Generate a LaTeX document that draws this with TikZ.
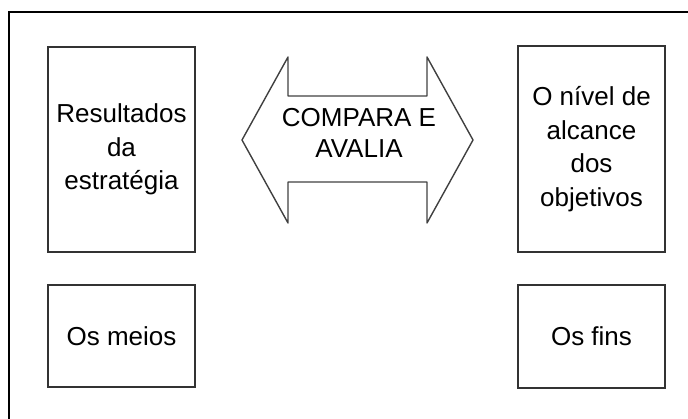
\documentclass[tikz,border=0pt]{standalone}
\usepackage{fontspec}
\setmainfont{Liberation Sans}
\begin{document}
\begin{tikzpicture}[x=1pt,y=-1pt,
    caixa/.style={draw=black!80,line width=1.4pt,minimum width=147pt,inner sep=0pt,
      align=center,font=\fontsize{26}{33.5}\selectfont},
    seta/.style={draw=black!75,line width=1.4pt,line join=round}]
  \useasboundingbox (0,0) rectangle (688,419);
  \clip (0,0) rectangle (688,419);
  % moldura
  \draw[line width=2.2pt] (9,440) -- (9,12) -- (700,12);
  % caixas
  \node[caixa,minimum height=205pt] (resultados) at (121.5,149.5) {Resultados\\da\\estratégia};
  \node[caixa,minimum height=102pt] (meios) at (121.5,336) {Os meios};
  \node[caixa,minimum height=206pt] (nivel) at (591.5,149) {O nível de\\alcance\\dos\\objetivos};
  \node[caixa,minimum height=103pt] (fins) at (591.5,336.5) {Os fins};
  % seta dupla
  \draw[seta] (242,140) -- (288,57) -- (288,96) -- (427,96) -- (427,57) -- (473,140)
    -- (427,223) -- (427,182) -- (288,182) -- (288,223) -- cycle;
  \node[align=center,font=\fontsize{26}{31}\selectfont] (compara) at (359,133) {COMPARA E\\AVALIA};
\end{tikzpicture}
\end{document}
